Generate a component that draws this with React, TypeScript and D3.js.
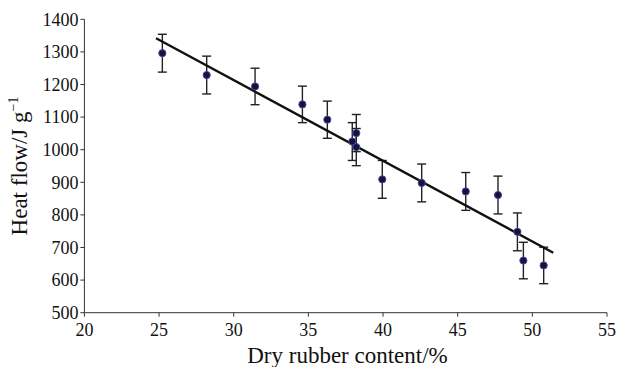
import React from "react";
import * as d3 from "d3";

const drc = [25.22, 28.19, 31.43, 34.6, 36.27, 37.94, 38.21, 38.21, 39.95, 42.59, 45.54, 47.7, 49.0, 49.4, 50.76];
const heat = [1296, 1229, 1194, 1139, 1092, 1025, 1051, 1008, 909, 898, 872, 861, 748, 660, 645];
const err = [58, 58, 56, 56, 57, 58, 57, 57, 58, 58, 58, 58, 58, 56, 56];
const trendX = [24.8, 51.4];
const trendY = [1342, 684];
const xTicks = [20, 25, 30, 35, 40, 45, 50, 55];
const yTicks = [500, 600, 700, 800, 900, 1000, 1100, 1200, 1300, 1400];

export default function App() {
  const W = 617, H = 367;
  const x = d3.scaleLinear().domain([20, 55]).range([84.4, 607]);
  const y = d3.scaleLinear().domain([500, 1400]).range([312.7, 19.3]);
  const line = d3.line<number>().x((_, i) => x(trendX[i])).y((d) => y(d));
  const font = '"Liberation Serif", "DejaVu Serif", serif';
  const axisColor = "#333";
  return (
    <svg width={W} height={H} style={{ position: "absolute", left: 0, top: 0, background: "#fff", fontFamily: font }}>
      <line x1={x(20)} x2={x(55)} y1={y(500)} y2={y(500)} stroke={axisColor} strokeWidth={1} />
      <line x1={x(20)} x2={x(20)} y1={y(500)} y2={y(1400)} stroke={axisColor} strokeWidth={1} />
      {yTicks.map((t) => (
        <g key={"y" + t}>
          <line x1={x(20) - 4} x2={x(20)} y1={y(t)} y2={y(t)} stroke={axisColor} />
          <text x={x(20) - 6} y={y(t)} dy="0.35em" textAnchor="end" fontSize={18} fill="#111" style={{ fontFamily: font }}>{t}</text>
        </g>
      ))}
      {xTicks.map((t) => (
        <g key={"x" + t}>
          <line x1={x(t)} x2={x(t)} y1={y(500)} y2={y(500) + 4} stroke={axisColor} />
          <text x={x(t)} y={336} textAnchor="middle" fontSize={18} fill="#111" style={{ fontFamily: font }}>{t}</text>
        </g>
      ))}
      <text x={347.5} y={363} textAnchor="middle" fontSize={23} fill="#111" style={{ fontFamily: font }}>Dry rubber content/%</text>
      <text transform={`translate(27, ${(y(500) + y(1400)) / 2}) rotate(-90)`} textAnchor="middle" fontSize={23} fill="#111" style={{ fontFamily: font }}>
        Heat flow/J g<tspan dy={-9} fontSize={14}>−1</tspan>
      </text>
      {drc.map((d, i) => (
        <g key={"e" + i} stroke="#222" strokeWidth={1.4}>
          <line x1={x(d)} x2={x(d)} y1={y(heat[i] - err[i])} y2={y(heat[i] + err[i])} />
          <line x1={x(d) - 4.5} x2={x(d) + 4.5} y1={y(heat[i] + err[i])} y2={y(heat[i] + err[i])} />
          <line x1={x(d) - 4.5} x2={x(d) + 4.5} y1={y(heat[i] - err[i])} y2={y(heat[i] - err[i])} />
        </g>
      ))}
      <path d={line(trendY) || ""} fill="none" stroke="#111" strokeWidth={2.4} />
      {drc.map((d, i) => (
        <circle key={"c" + i} cx={x(d)} cy={y(heat[i])} r={3.6} fill="#14143a" stroke="#4a48a0" strokeWidth={1} />
      ))}
    </svg>
  );
}
